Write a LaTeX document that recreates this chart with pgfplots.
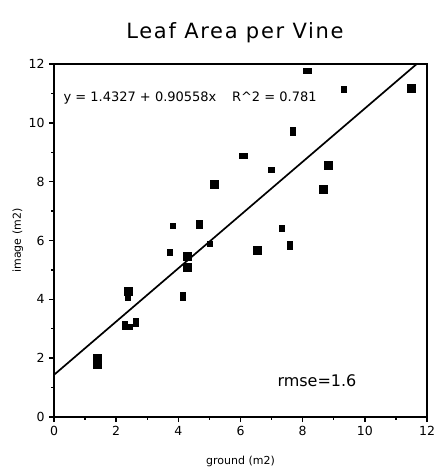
\documentclass[border=0pt]{standalone}
\usepackage{pgfplots}
\pgfplotsset{compat=1.18}
\usepackage{fontspec}
\setmainfont{DejaVu Sans}
\newfontfamily\titlefont[LetterSpace=8]{DejaVu Sans}
\begin{document}
\begin{tikzpicture}[x=1pt,y=1pt]
\path[use as bounding box] (-54,-59) rectangle (386,417);
\begin{axis}[
  at={(0,0)}, anchor=south west,
  scale only axis, width=373pt, height=353pt,
  xmin=0, xmax=12, ymin=0, ymax=12,
  xtick={0,2,...,12}, ytick={0,2,...,12},
  minor xtick={1,3,...,11}, minor ytick={1,3,...,11},
  xtick pos=left, ytick pos=left,
  tick align=outside,
  major tick length=5pt, minor tick length=2.5pt,
  every tick/.style={black, line width=1.4pt},
  axis line style={black, line width=1.3pt},
  /pgf/number format/assume math mode=true,
  tick label style={font=\fontsize{12.5}{14}\selectfont},
  xticklabel style={yshift=-1pt},
  yticklabel style={xshift=-1pt},
  xlabel={ground (m2)}, ylabel={image (m2)},
  label style={font=\fontsize{11}{13}\selectfont},
  xlabel style={at={(axis description cs:0.5,-0.125)}, anchor=center},
  ylabel style={at={(axis description cs:-0.097,0.5)}, anchor=center, rotate=0},
  clip=false,
]
% frame thick sides
\draw[line width=2.8pt, black, line cap=rect] (rel axis cs:0,1) -- (rel axis cs:0,0) -- (rel axis cs:1,0) -- (rel axis cs:1,1);
% regression line
\addplot[black, line width=1.7pt, no marks] coordinates {(0,1.4327) (11.669,12)};
% big squares
\addplot[only marks, mark=square*, mark size=4pt, mark options={black, fill=black, line width=0pt}] coordinates {
(1.39,2.0) (1.39,1.8) (2.41,4.25) (4.29,5.45) (4.29,5.09) (5.15,7.91)
(11.51,11.17) (8.84,8.54) (8.67,7.72) (6.54,5.65)
};
% small squares
\addplot[only marks, mark=square*, mark size=2.6pt, mark options={black, fill=black, line width=0pt}] coordinates {
(2.37,4.06) (2.45,3.06) (3.73,5.59) (5.02,5.88) (3.82,6.50)
(9.32,11.13) (7.00,8.40) (7.34,6.41)
};
% tall rectangles
\addplot[only marks, mark=square*, mark size=4pt, mark options={black, fill=black, line width=0pt, xscale=0.65}] coordinates {
(2.28,3.10) (2.63,3.20) (4.16,4.09) (4.68,6.55) (7.68,9.70) (7.59,5.82)
};
% wide rectangles
\addplot[only marks, mark=square*, mark size=4pt, mark options={black, fill=black, line width=0pt, yscale=0.65}] coordinates {
(8.16,11.77) (6.09,8.88)
};
\node[anchor=west, font=\fontsize{13}{15}\selectfont, inner sep=0pt] at (axis cs:0.30,10.85) {y = 1.4327 + 0.90558x\hspace{1.2em}R\^{}2 = 0.781};
\node[font=\fontsize{16}{18}\selectfont, inner sep=0pt] at (axis cs:8.46,1.22) {rmse=1.6};
\end{axis}
\node[font=\titlefont\fontsize{21}{24}\selectfont, inner sep=0pt] at (181,384) {Leaf Area per Vine};
\end{tikzpicture}
\end{document}
